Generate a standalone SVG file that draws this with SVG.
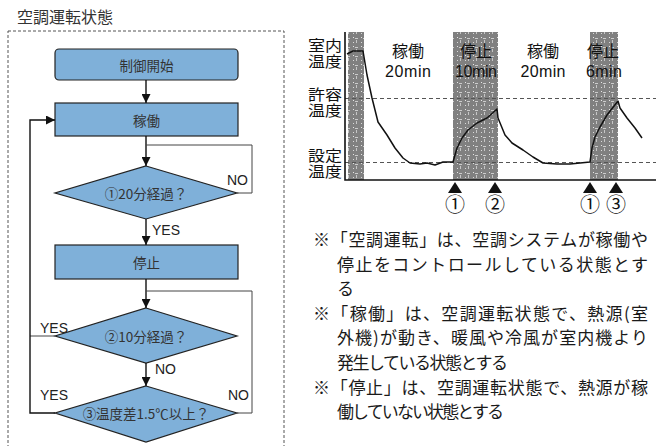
<svg xmlns="http://www.w3.org/2000/svg" width="656" height="446" viewBox="0 0 656 446">
<defs>
<style>
.jp{font-family:"Noto Sans CJK JP","Noto Sans CJK SC",sans-serif;}
.en{font-family:"Liberation Sans",Arial,sans-serif;}
.box{fill:#7fb0d9;stroke:#222;stroke-width:1.2;}
.lbl{font-size:13.5px;fill:#333;text-anchor:middle;dominant-baseline:central;}
.yn{font-size:14px;fill:#222;}
.flow{fill:none;stroke:#111;stroke-width:1.4;}
.loop{fill:none;stroke:#444;stroke-width:1;}
.note{font-size:17px;fill:#1a1a1a;}
.ax{font-size:15px;fill:#111;}
.top{font-size:16px;fill:#111;text-anchor:middle;}
.dash{stroke:#555;stroke-width:1;stroke-dasharray:4 3;fill:none;}
.circ{font-size:20px;fill:#111;text-anchor:middle;}
</style>
<marker id="arr" viewBox="0 0 10 10" refX="10" refY="5" markerWidth="9" markerHeight="9" orient="auto" markerUnits="userSpaceOnUse">
<path d="M0,0 L10,5 L0,10 z" fill="#111"/>
</marker>
<pattern id="band" width="8" height="9" patternUnits="userSpaceOnUse">
<rect width="8" height="9" fill="#808080"/>
<rect x="1" y="1" width="1" height="1" fill="#fff" opacity="0.8"/>
<rect x="3" y="2" width="3" height="1" fill="#fff" opacity="0.6"/>
<rect x="4" y="4" width="1" height="3" fill="#fff" opacity="0.55"/>
<rect x="1" y="6" width="1" height="1" fill="#fff" opacity="0.7"/>
</pattern>
</defs>

<rect width="656" height="446" fill="#fff"/>

<text id="title" class="jp" x="17" y="23" font-size="16" fill="#333">空調運転状態</text>
<rect id="frame" x="8" y="31" width="276" height="440" fill="none" stroke="#555" stroke-width="1" stroke-dasharray="3 2"/>

<g id="node-start">
<rect class="box" x="55" y="49" width="183" height="31" rx="4"/>
<text class="jp lbl" x="146.5" y="64.5">制御開始</text>
</g>
<g id="node-run">
<rect class="box" x="55" y="103" width="183" height="33"/>
<text class="jp lbl" x="146.5" y="119.5">稼働</text>
</g>
<g id="node-d1">
<polygon class="box" points="146,166 237,193 146,219 55,193"/>
<text class="jp lbl" x="146" y="193">①20分経過？</text>
</g>
<g id="node-stop">
<rect class="box" x="55" y="245" width="183" height="34"/>
<text class="jp lbl" x="146.5" y="262">停止</text>
</g>
<g id="node-d2">
<polygon class="box" points="146,308 237,336 146,363 55,336"/>
<text class="jp lbl" x="146" y="336">②10分経過？</text>
</g>
<g id="node-d3">
<polygon class="box" points="146,386 237,413 146,442 55,413"/>
<text class="jp lbl" x="146" y="413">③温度差1.5℃以上？</text>
</g>

<g id="connectors">
<path class="flow" d="M146,80 V103" marker-end="url(#arr)"/>
<path class="flow" d="M146,136 V166" marker-end="url(#arr)"/>
<path class="loop" d="M237,193 H252 V145 H146"/>
<path class="flow" d="M146,219 V245" marker-end="url(#arr)"/>
<path class="flow" d="M146,279 V308" marker-end="url(#arr)"/>
<path class="flow" d="M146,363 V386" marker-end="url(#arr)"/>
<path class="loop" d="M237,413 H252 V291 H146"/>
<path class="loop" d="M55,336 H30"/>
<path class="flow" d="M55,413 H30 V120 H55" marker-end="url(#arr)"/>
<text class="en yn" x="227" y="185">NO</text>
<text class="en yn" x="152" y="235">YES</text>
<text class="en yn" x="40" y="333">YES</text>
<text class="en yn" x="155" y="374">NO</text>
<text class="en yn" x="40" y="400">YES</text>
<text class="en yn" x="228" y="400">NO</text>
</g>

<g id="chart">
<rect x="348" y="32" width="16" height="148" fill="url(#band)"/>
<rect x="453" y="32" width="45" height="148" fill="url(#band)"/>
<rect x="590" y="32" width="28" height="148" fill="url(#band)"/>
<line class="dash" x1="345" y1="98.5" x2="656" y2="98.5"/>
<line class="dash" x1="345" y1="162.5" x2="656" y2="162.5"/>
<path d="M345,32 V180 H656" fill="none" stroke="#111" stroke-width="1.6"/>
<path d="M347,54 L353,51 L363,51 L367,75 L372,98 L378,122 L387,135 L395,148 L403,158 L410,163 L420,164 L427,163 L435,165 L443,162 L453,162 L457,148 L462,138 L468,130 L477,123 L487,118 L497,109 L498,118 L505,135 L512,143 L523,150 L533,157 L543,163 L557,164 L570,164 L580,163 L590,162 L592,148 L595,137 L600,127 L607,115 L618,101 L620,108 L627,118 L635,128 L642,138" fill="none" stroke="#111" stroke-width="1.5" stroke-linejoin="round"/>
<text class="jp ax" x="308" y="51" textLength="34" lengthAdjust="spacingAndGlyphs">室内</text>
<text class="jp ax" x="308" y="67" textLength="34" lengthAdjust="spacingAndGlyphs">温度</text>
<text class="jp ax" x="308" y="100" textLength="34" lengthAdjust="spacingAndGlyphs">許容</text>
<text class="jp ax" x="308" y="116" textLength="34" lengthAdjust="spacingAndGlyphs">温度</text>
<text class="jp ax" x="308" y="161" textLength="34" lengthAdjust="spacingAndGlyphs">設定</text>
<text class="jp ax" x="308" y="177" textLength="34" lengthAdjust="spacingAndGlyphs">温度</text>
<text class="jp top" x="408" y="57">稼働</text>
<text class="en top" x="408" y="77" textLength="46" lengthAdjust="spacing">20min</text>
<text class="jp top" x="476" y="57">停止</text>
<text class="en top" x="476" y="77" textLength="42" lengthAdjust="spacing">10min</text>
<text class="jp top" x="543" y="57">稼働</text>
<text class="en top" x="543" y="77" textLength="45" lengthAdjust="spacing">20min</text>
<text class="jp top" x="603" y="57">停止</text>
<text class="en top" x="604" y="77" textLength="36" lengthAdjust="spacing">6min</text>
<polygon points="455,182 462,193 448,193" fill="#111"/>
<polygon points="495,182 502,193 488,193" fill="#111"/>
<polygon points="590,182 597,193 583,193" fill="#111"/>
<polygon points="616,182 623,193 609,193" fill="#111"/>
<text class="jp circ" x="455" y="212">①</text>
<text class="jp circ" x="495" y="212">②</text>
<text class="jp circ" x="590" y="212">①</text>
<text class="jp circ" x="616" y="212">③</text>
</g>

<g id="notes">
<text class="jp note" x="313" y="246" textLength="335" lengthAdjust="spacing">※「空調運転」は、空調システムが稼働や</text>
<text class="jp note" x="337" y="271" textLength="311" lengthAdjust="spacing">停止をコントロールしている状態とす</text>
<text class="jp note" x="337" y="295">る</text>
<text class="jp note" x="313" y="320" textLength="335" lengthAdjust="spacing">※「稼働」は、空調運転状態で、熱源(室</text>
<text class="jp note" x="337" y="344" textLength="311" lengthAdjust="spacing">外機)が動き、暖風や冷風が室内機より</text>
<text class="jp note" x="337" y="369" textLength="171" lengthAdjust="spacing">発生している状態とする</text>
<text class="jp note" x="313" y="394" textLength="335" lengthAdjust="spacing">※「停止」は、空調運転状態で、熱源が稼</text>
<text class="jp note" x="337" y="418" textLength="167" lengthAdjust="spacing">働していない状態とする</text>
</g>
</svg>
